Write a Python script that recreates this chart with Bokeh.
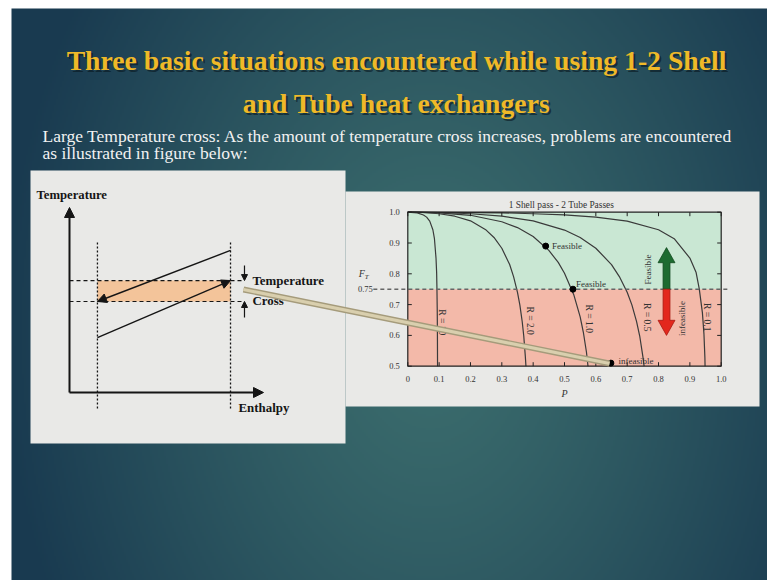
import numpy as np
from bokeh.plotting import figure
from bokeh.models import Range1d, Arrow, NormalHead
from bokeh.core.properties import value
from bokeh.embed import file_html
from bokeh.resources import INLINE

# ---------------------------------------------------------------- texts
title_lines = ["Three basic situations encountered while using 1-2 Shell",
               "and Tube heat exchangers"]
body_lines = ["Large Temperature cross: As the amount of temperature cross increases, problems are encountered",
              "as illustrated in figure below:"]

# ---------------------------------------------------------------- F_T chart data
chart_title = "1 Shell pass - 2 Tube Passes"
p_ticks = [0.0, 0.1, 0.2, 0.3, 0.4, 0.5, 0.6, 0.7, 0.8, 0.9, 1.0]
p_tick_labels = ["0", "0.1", "0.2", "0.3", "0.4", "0.5", "0.6", "0.7", "0.8", "0.9", "1.0"]
f_ticks = [0.5, 0.6, 0.7, 0.8, 0.9, 1.0]
f_tick_labels = ["0.5", "0.6", "0.7", "0.8", "0.9", "1.0"]
f_limit = 0.75
f_limit_label = "0.75"

curve_names = ["R = 10", "R = 2.0", "R = 1.0", "R = 0.5", "R = 0.1"]
curve_R10_P = [0.0, 0.03, 0.05, 0.06, 0.07, 0.08, 0.085, 0.09, 0.092, 0.093, 0.094, 0.0945, 0.0948, 0.0949]
curve_R10_F = [1.0, 0.998, 0.991, 0.984, 0.971, 0.943, 0.914, 0.851, 0.804, 0.751, 0.674, 0.604, 0.527, 0.5]
curve_R2_P = [0.0, 0.05, 0.1, 0.15, 0.2, 0.25, 0.275, 0.3, 0.325, 0.3375, 0.35, 0.3575, 0.365, 0.37, 0.375, 0.377]
curve_R2_F = [1.0, 0.999, 0.995, 0.987, 0.972, 0.942, 0.918, 0.883, 0.830, 0.791, 0.740, 0.699, 0.645, 0.598, 0.532, 0.5]
curve_R1_P = [0.0, 0.1, 0.2, 0.3, 0.35, 0.4, 0.45, 0.48, 0.5, 0.53, 0.55, 0.56, 0.57, 0.575]
curve_R1_F = [1.0, 0.998, 0.990, 0.969, 0.950, 0.921, 0.876, 0.837, 0.802, 0.731, 0.660, 0.611, 0.546, 0.5]
curve_R05_P = [0.0, 0.1, 0.2, 0.3, 0.4, 0.5, 0.55, 0.6, 0.65, 0.675, 0.7, 0.715, 0.73, 0.74, 0.75, 0.754]
curve_R05_F = [1.0, 0.999, 0.995, 0.987, 0.972, 0.942, 0.918, 0.883, 0.830, 0.791, 0.740, 0.699, 0.645, 0.598, 0.532, 0.5]
curve_R01_P = [0.0, 0.3, 0.4, 0.5, 0.6, 0.7, 0.8, 0.85, 0.9, 0.92, 0.93, 0.94, 0.945, 0.948, 0.9485]
curve_R01_F = [1.0, 0.998, 0.995, 0.991, 0.984, 0.971, 0.943, 0.914, 0.851, 0.804, 0.751, 0.674, 0.604, 0.527, 0.5]
curve_label_P = [0.110, 0.389, 0.578, 0.764, 0.955]
curve_label_F = [0.643, 0.648, 0.654, 0.659, 0.659]

point_P = [0.440, 0.527, 0.648]
point_F = [0.890, 0.750, 0.510]
point_text = ["Feasible", "Feasible", "infeasible"]
point_label_P = [0.460, 0.537, 0.672]
point_label_F = [0.890, 0.768, 0.518]

arrow_P = 0.8255
arrow_top_F = 0.885
arrow_bottom_F = 0.600
arrow_words = ["Feasible", "infeasible"]
arrow_word_P = [0.768, 0.876]
arrow_word_F = [0.814, 0.655]

# ---------------------------------------------------------------- schematic (T vs H)
enthalpy_in, enthalpy_out = 14.4, 83.0
hot_T = [76.8, 49.2]     # hot stream, from enthalpy_out back to enthalpy_in
cold_T = [29.7, 60.5]    # cold stream, from enthalpy_in to enthalpy_out
schematic_labels = ["Temperature", "Enthalpy", "Temperature", "Cross"]

# ---------------------------------------------------------------- layout
FX0, FY0, W, H = 0, 0, 767, 580
SERIF = value("Liberation Serif")

p = figure(width=W, height=H, x_range=Range1d(FX0, FX0 + W), y_range=Range1d(FY0 + H, FY0),
           output_backend="svg", toolbar_location=None, min_border=0,
           x_axis_location=None, y_axis_location=None,
           background_fill_color="white", border_fill_color="white", outline_line_color=None)
p.xgrid.visible = False
p.ygrid.visible = False


def make_range(v0, px0, v1, px1, axis):
    k = (v1 - v0) / (px1 - px0)
    if axis == "x":
        return Range1d(v0 + (FX0 - px0) * k, v0 + (FX0 + W - px0) * k)
    return Range1d(v0 + (FY0 + H - px0) * k, v0 + (FY0 - px0) * k)


# chart frame in page pixels
CL, CR, CT, CB = 407.3, 720.7, 211.7, 365.7
# schematic frame: H=0 at x=69, H=100 at x=263 ; T=0 at y=392, T=100 at y=207
p.extra_x_ranges = {"P": make_range(0.0, CL, 1.0, CR, "x"),
                    "H": make_range(0.0, 69, 100.0, 263, "x")}
p.extra_y_ranges = {"F": make_range(0.5, CB, 1.0, CT, "y"),
                    "T": make_range(0.0, 392, 100.0, 207, "y")}
PF = dict(x_range_name="P", y_range_name="F")
HT = dict(x_range_name="H", y_range_name="T")

# ---------------------------------------------------------------- background gradient
nx, ny = 378, 286
bx0, by0, bw, bh = 11, 8, 756, 572
xs = bx0 + (np.arange(nx) + 0.5) * bw / nx
ys = by0 + (np.arange(ny) + 0.5) * bh / ny
X, Y = np.meshgrid(xs, ys)
d = np.sqrt(((X - 430) / 430) ** 2 + ((Y - 330) / 600) ** 2)
t = np.clip(d, 0, 1) ** 1.2
inner = np.array([60, 110, 110], dtype=float)
outer = np.array([25, 58, 80], dtype=float)
rgb = inner[None, None, :] * (1 - t[..., None]) + outer[None, None, :] * t[..., None]
img = np.empty((ny, nx), dtype=np.uint32)
view = img.view(dtype=np.uint8).reshape((ny, nx, 4))
view[..., 0:3] = rgb.astype(np.uint8)
view[..., 3] = 255
p.image_rgba(image=[img], x=bx0, y=by0, dw=bw, dh=bh)


def text(x, y, s, size, color="#1a1a1a", style="normal", align="left", baseline="middle",
         angle=0.0, xo=0, yo=0, alpha=1.0, **rng):
    p.text(x=[x], y=[y], text=[s], text_font=SERIF, text_font_size=size, text_color=color,
           text_font_style=style, text_align=align, text_baseline=baseline, angle=angle,
           x_offset=xo, y_offset=yo, text_alpha=alpha, **rng)


# ---------------------------------------------------------------- title + body
for s, yb in zip(title_lines, [60, 103]):
    text(396, yb, s, "27.7px", color="#08161e", style="bold", align="center",
         baseline="alphabetic", xo=2, yo=2, alpha=0.6)
    text(396, yb, s, "27.7px", color="#efb928", style="bold", align="center",
         baseline="alphabetic")
for s, yb in zip(body_lines, [135, 152]):
    text(42, yb, s, "17.5px", color="#f2f2f2", baseline="alphabetic")

# ---------------------------------------------------------------- white panels
p.quad(left=[30, 345], right=[345, 759], top=[170, 191], bottom=[443, 406],
       fill_color="#e9e9e7", line_color=None)

# ---------------------------------------------------------------- schematic
ink = "#151515"
p.quad(left=[enthalpy_in], right=[enthalpy_out], bottom=[hot_T[1]], top=[cold_T[1]],
       fill_color="#f3c49a", line_color=None, **HT)
p.segment(x0=[enthalpy_in, enthalpy_out], x1=[enthalpy_in, enthalpy_out],
          y0=[-8.6, -8.6], y1=[82.2, 82.2], line_color=ink, line_width=1.3,
          line_dash="2 2", **HT)
p.segment(x0=[0, 0], x1=[89.2, 89.2], y0=[cold_T[1], hot_T[1]], y1=[cold_T[1], hot_T[1]],
          line_color=ink, line_width=1.2, line_dash="4 3", **HT)


def arrow(x0, y0, x1, y1, size, width=1.4):
    p.add_layout(Arrow(end=NormalHead(size=size, fill_color=ink, line_color=ink),
                       x_start=x0, y_start=y0, x_end=x1, y_end=y1,
                       line_color=ink, line_width=width, **HT))


arrow(0, 0, 0, 100, 10, 2.0)
arrow(0, 0, 100, 0, 10, 2.0)
arrow(enthalpy_out, hot_T[0], enthalpy_in, hot_T[1], 9)
arrow(enthalpy_in, cold_T[0], enthalpy_out, cold_T[1], 9)
arrow(90.2, 68.6, 90.2, cold_T[1], 6, 1.2)
arrow(90.2, 40.5, 90.2, hot_T[1], 6, 1.2)

text(-17, 107, schematic_labels[0], "12.7px", style="bold", color=ink, **HT)
text(87.1, -8.6, schematic_labels[1], "12.9px", style="bold", color=ink, **HT)
text(94.3, 60.5, schematic_labels[2], "12.9px", style="bold", color=ink, **HT)
text(94.3, 49.7, schematic_labels[3], "12.9px", style="bold", color=ink, **HT)

# ---------------------------------------------------------------- F_T chart
p.quad(left=[0, 0], right=[1, 1], bottom=[f_limit, 0.5], top=[1.0, f_limit],
       fill_color=["#c9e7d3", "#f3b9a9"], line_color=None, **PF)
p.multi_line(xs=[curve_R10_P, curve_R2_P, curve_R1_P, curve_R05_P, curve_R01_P],
             ys=[curve_R10_F, curve_R2_F, curve_R1_F, curve_R05_F, curve_R01_F],
             line_color="#3a3a3a", line_width=1.2, **PF)
p.line(x=[-0.11, 1.02], y=[f_limit, f_limit], line_color="#666666", line_width=1.4,
       line_dash="4 3", **PF)

# block arrow
sw, hw, hl = 0.011, 0.027, 0.049
a = arrow_P
green_x = [a - sw, a - sw, a - hw, a, a + hw, a + sw, a + sw]
green_y = [f_limit, arrow_top_F - hl, arrow_top_F - hl, arrow_top_F, arrow_top_F - hl,
           arrow_top_F - hl, f_limit]
red_x = [a - sw, a - sw, a - hw, a, a + hw, a + sw, a + sw]
red_y = [f_limit, arrow_bottom_F + hl, arrow_bottom_F + hl, arrow_bottom_F,
         arrow_bottom_F + hl, arrow_bottom_F + hl, f_limit]
p.patches(xs=[green_x, red_x], ys=[green_y, red_y], fill_color=["#1c6b30", "#e3281d"],
          line_color=["#124a20", "#a81a12"], line_width=0.8, **PF)

for s, x, y in zip(arrow_words, arrow_word_P, arrow_word_F):
    text(x, y, s, "9px", color="#333333", align="center", angle=np.pi / 2, **PF)

# ticks (inward)
tp, tf = 4 / (CR - CL), 4 / ((CB - CT) / 0.5)
p.segment(x0=p_ticks, x1=p_ticks, y0=[0.5] * len(p_ticks), y1=[0.5 + tf] * len(p_ticks),
          line_color="#222", line_width=1, **PF)
p.segment(x0=p_ticks, x1=p_ticks, y0=[1.0] * len(p_ticks), y1=[1.0 - tf] * len(p_ticks),
          line_color="#222", line_width=1, **PF)
p.segment(x0=[0] * len(f_ticks), x1=[tp] * len(f_ticks), y0=f_ticks, y1=f_ticks,
          line_color="#222", line_width=1, **PF)
p.segment(x0=[1] * len(f_ticks), x1=[1 - tp] * len(f_ticks), y0=f_ticks, y1=f_ticks,
          line_color="#222", line_width=1, **PF)
p.quad(left=[0], right=[1], bottom=[0.5], top=[1.0], fill_alpha=0, line_color="#222",
       line_width=1.2, **PF)

# curve labels
p.text(x=curve_label_P, y=curve_label_F, text=curve_names, text_font=SERIF,
       text_font_size="9.5px", text_color="#333333", text_align="center",
       text_baseline="middle", angle=-np.pi / 2, **PF)

# points
p.scatter(x=point_P, y=point_F, size=6, fill_color="black", line_color="black", **PF)
p.text(x=point_label_P, y=point_label_F, text=point_text, text_font=SERIF,
       text_font_size="9px", text_color="#333333", text_baseline="middle", **PF)

# tick labels and axis titles
p.text(x=p_ticks, y=[0.5] * len(p_ticks), text=p_tick_labels, text_font=SERIF,
       text_font_size="8.5px", text_color="#333333", text_align="center",
       text_baseline="top", y_offset=10, **PF)
p.text(x=[0.0] * len(f_ticks), y=f_ticks, text=f_tick_labels, text_font=SERIF,
       text_font_size="8.5px", text_color="#333333", text_align="right",
       text_baseline="middle", x_offset=-8, **PF)
text(0.0, f_limit, f_limit_label, "8.5px", color="#333333", align="right", xo=-35, **PF)
text(0.0, 0.8, "F", "10px", color="#333333", style="italic", align="center", xo=-46, **PF)
text(0.0, 0.8, "T", "7px", color="#333333", style="italic", align="center", xo=-41, yo=3, **PF)
text(0.5, 0.5, "P", "10px", color="#333333", style="italic", align="center",
     baseline="top", yo=22, **PF)
text(0.49, 1.0, chart_title, "9.4px", color="#333333", align="center",
     baseline="bottom", yo=-2, **PF)

# ---------------------------------------------------------------- call-out pointer
p.line(x=[243, 609], y=[289, 363], line_color="#a59b7b", line_width=6)
p.line(x=[243, 609], y=[289, 363], line_color="#d9cfae", line_width=3.2)

open("out.html", "w").write(file_html(p, INLINE))
